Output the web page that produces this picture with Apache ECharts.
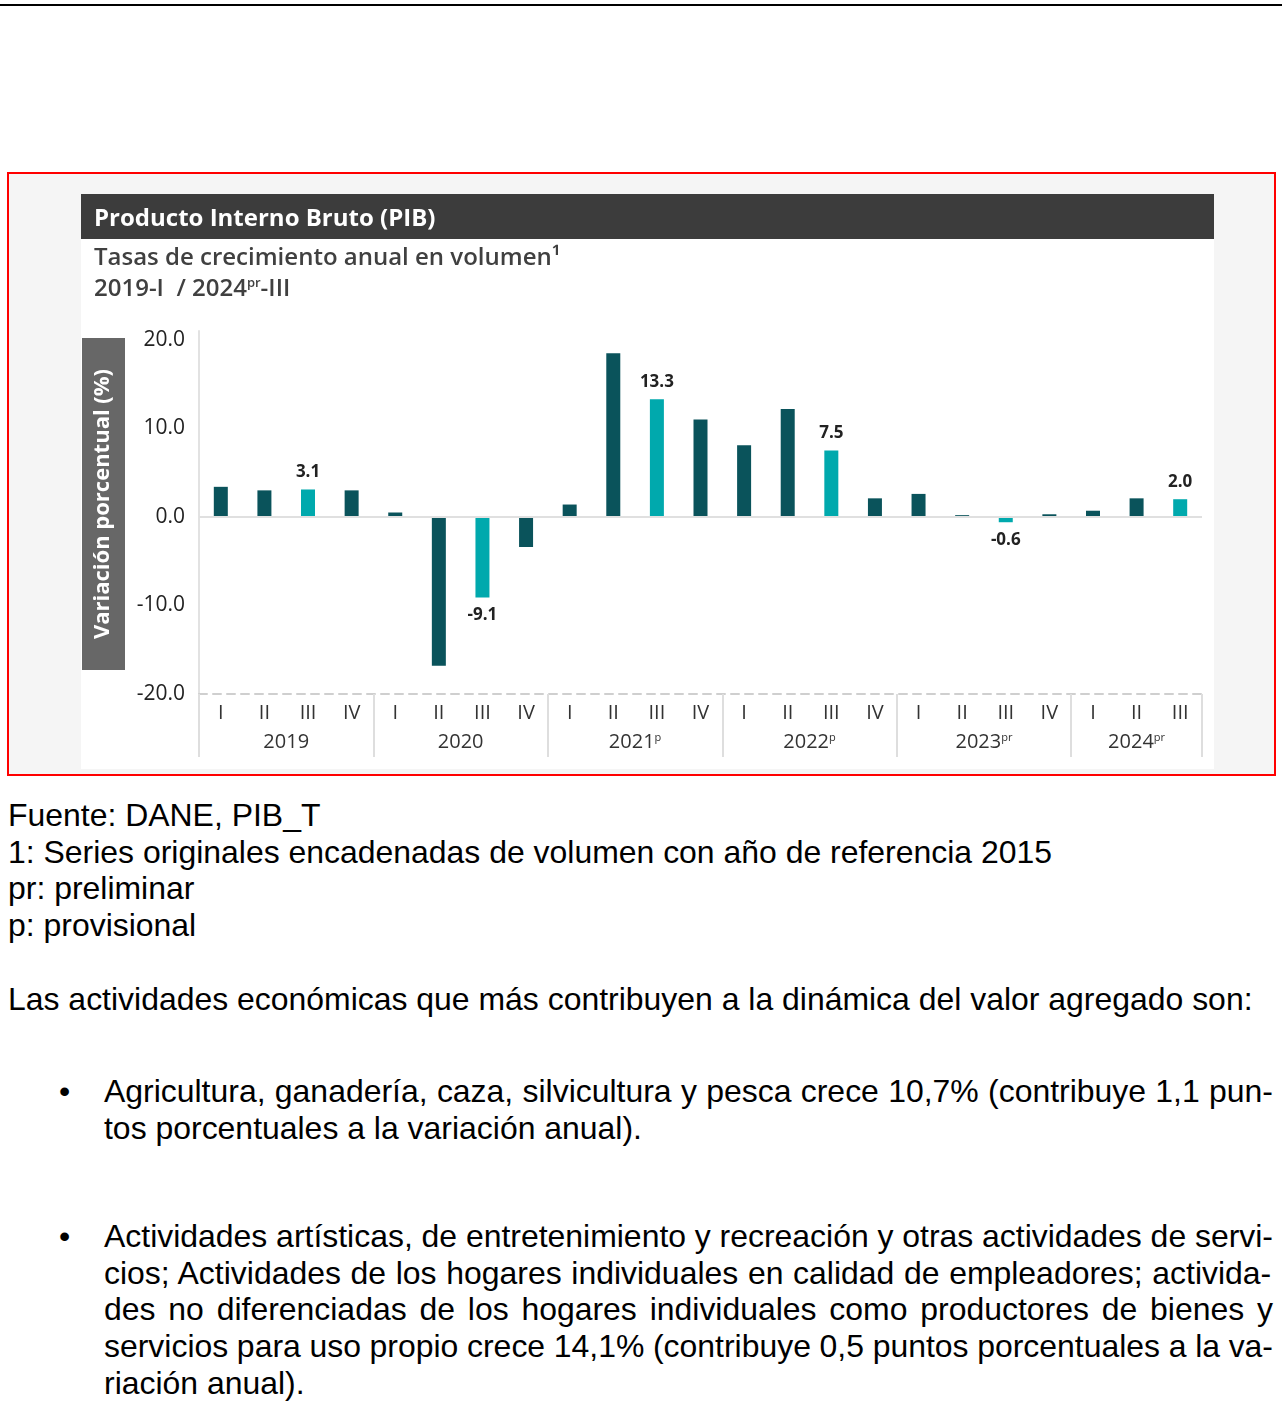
<!DOCTYPE html>
<html>
<head>
<meta charset="utf-8">
<script src="https://cdn.jsdelivr.net/npm/echarts@6/dist/echarts.min.js"></script>
<style>
  html, body { margin:0; padding:0; background:#fff; width:1282px; height:1411px; overflow:hidden; }
  #topline { position:absolute; left:0; top:4px; width:1282px; height:2px; background:#000; }
  #frame { position:absolute; left:7px; top:172px; width:1265px; height:600px; border:2px solid #ff0000; background:#f5f5f5; }
  #chart { position:absolute; left:0; top:0; width:1265px; height:600px; }
  .doc { position:absolute; font-family:'Liberation Sans', Arial, sans-serif; color:#000; line-height:36.7px; }
  .doc div { white-space:nowrap; }
  .bullet { position:absolute; left:-45px; top:0; }
</style>
</head>
<body>
<div id="topline"></div>
<div id="frame"><div id="chart"></div></div>

<div class="doc" id="notes" style="left:8px; top:797px; width:1265px;">
  <div>Fuente: DANE, PIB_T</div>
  <div>1: Series originales encadenadas de volumen con año de referencia 2015</div>
  <div>pr: preliminar</div>
  <div>p: provisional</div>
</div>
<div class="doc" id="intro" style="left:8px; top:981px; width:1265px;">
  <div id="introLine">Las actividades económicas que más contribuyen a la dinámica del valor agregado son:</div>
</div>
<div class="doc" style="left:104px; top:1073px; width:1169px;">
  <span class="bullet">•</span>
  <div class="jl">Agricultura, ganadería, caza, silvicultura y pesca crece 10,7% (contribuye 1,1 pun-</div>
  <div>tos porcentuales a la variación anual).</div>
</div>
<div class="doc" style="left:104px; top:1218px; width:1169px;">
  <span class="bullet">•</span>
  <div class="jl">Actividades artísticas, de entretenimiento y recreación y otras actividades de servi-</div>
  <div class="jl">cios; Actividades de los hogares individuales en calidad de empleadores; activida-</div>
  <div class="jl">des no diferenciadas de los hogares individuales como productores de bienes y</div>
  <div class="jl">servicios para uso propio crece 14,1% (contribuye 0,5 puntos porcentuales a la va-</div>
  <div>riación anual).</div>
</div>

<script>
// ---------------- data ----------------
const quarterNames = ['I', 'II', 'III', 'IV'];
const years = ['2019', '2020', '2021', '2022', '2023', '2024'];
const yearMarks = ['', '', 'p', 'p', 'pr', 'pr'];
const quartersInYear = [4, 4, 4, 4, 4, 3];
const growth = [3.4, 3.0, 3.1, 3.0, 0.5, -16.8, -9.1, -3.4, 1.4, 18.5, 13.3, 11.0,
                8.1, 12.2, 7.5, 2.1, 2.6, 0.2, -0.6, 0.3, 0.7, 2.1, 2.0];
const highlightQuarter = 'III';
const yTickValues = [-20, -10, 0, 10, 20];

// ---------------- fit document font & justify lines ----------------
(function () {
  const c = document.createElement('canvas').getContext('2d');
  c.font = "100px 'Liberation Sans'";
  const w = c.measureText(document.getElementById('introLine').textContent).width;
  const fs = 100 * 1245 / w;
  document.querySelectorAll('.doc').forEach(d => d.style.fontSize = fs + 'px');
  c.font = fs + "px 'Liberation Sans'";
  document.querySelectorAll('.jl').forEach(line => {
    const t = line.textContent;
    const natural = c.measureText(t).width;
    const spaces = (t.match(/ /g) || []).length;
    const target = line.parentElement.getBoundingClientRect().width;
    if (spaces > 0) line.style.wordSpacing = ((target - natural) / spaces) + 'px';
  });
})();

// ---------------- build axis data ----------------
const quarterCats = [];
const quarterIsHighlight = [];
const yearSlots = [];
const sepSlots = [];
let start = 0;
years.forEach((y, i) => {
  for (let q = 0; q < quartersInYear[i]; q++) {
    quarterCats.push(quarterNames[q]);
    quarterIsHighlight.push(quarterNames[q] === highlightQuarter);
  }
  sepSlots.push(2 * start);
  start += quartersInYear[i];
});
sepSlots.push(2 * start);
for (let j = 0; j <= 2 * start; j++) yearSlots.push('');
start = 0;
years.forEach((y, i) => {
  const center = 2 * start + quartersInYear[i];
  yearSlots[center] = yearMarks[i] ? y + '{s|' + yearMarks[i] + '}' : y;
  start += quartersInYear[i];
});

const DARK = '#0a535b';
const LIGHT = '#00a9ad';
const FONT = "'Open Sans', 'Noto Sans', sans-serif";

const seriesData = growth.map((v, i) => {
  const hl = quarterIsHighlight[i];
  return {
    value: v,
    itemStyle: { color: hl ? LIGHT : DARK },
    label: {
      show: hl,
      position: v >= 0 ? 'top' : 'bottom',
      distance: 9,
      formatter: p => p.value.toFixed(1),
      fontFamily: FONT, fontWeight: 'bold', fontSize: 17, color: '#222'
    }
  };
});

const chart = echarts.init(document.getElementById('chart'), null, { renderer: 'canvas' });
chart.setOption({
  animation: false,
  backgroundColor: '#f5f5f5',
  textStyle: { fontFamily: FONT },
  graphic: [
    { type: 'rect', left: 72, top: 20, shape: { width: 1133, height: 575 }, style: { fill: '#ffffff' }, z: -10 },
    { type: 'rect', left: 72, top: 20, shape: { width: 1133, height: 45 }, style: { fill: '#3c3c3c' }, z: -5 },
    { type: 'text', left: 85, top: 33, style: { text: 'Producto Interno Bruto (PIB)', fill: '#ffffff', font: "bold 24px " + FONT } },
    { type: 'text', left: 85, top: 72, style: { text: 'Tasas de crecimiento anual en volumen¹', fill: '#404040', font: "600 24px " + FONT } },
    { type: 'text', left: 85, top: 103, style: {
        text: '2019-I  / 2024{s|pr}-III', fill: '#404040', font: "600 24px " + FONT,
        rich: { s: { fontSize: 13, fontWeight: 600, verticalAlign: 'top', lineHeight: 13, fill: '#404040', fontFamily: FONT } }
      } },
    { type: 'rect', left: 73, top: 164, shape: { width: 43, height: 332 }, style: { fill: '#676767' }, z: -4 },
    { type: 'text', x: 94, y: 330, rotation: Math.PI / 2,
      style: { text: 'Variación porcentual (%)', fill: '#ffffff', font: "bold 22px " + FONT, align: 'center', verticalAlign: 'middle' } }
  ],
  grid: { left: 190, right: 72, top: 157, bottom: 80, containLabel: false },
  xAxis: [
    {
      type: 'category', data: quarterCats, position: 'bottom',
      axisLine: { show: true, onZero: false, lineStyle: { color: '#cfcfcf', width: 2, type: [8, 6] } },
      axisTick: { show: false },
      axisLabel: { interval: 0, margin: 9, fontSize: 20, color: '#333', fontFamily: FONT }
    },
    {
      type: 'category', data: yearSlots, position: 'bottom', boundaryGap: false,
      axisLine: { show: false, onZero: false },
      axisTick: { show: true, length: 63, interval: (i) => sepSlots.indexOf(i) >= 0, lineStyle: { color: '#dedede', width: 2 } },
      axisLabel: {
        interval: 0, margin: 38, fontSize: 20, color: '#333', fontFamily: FONT,
        rich: { s: { fontSize: 11, verticalAlign: 'top', lineHeight: 11, color: '#333', fontFamily: FONT } }
      }
    }
  ],
  yAxis: {
    type: 'value', min: yTickValues[0], max: 21, interval: 10,
    axisLine: { show: true, onZero: false, lineStyle: { color: '#e2e2e2', width: 2 } },
    axisTick: { show: false },
    splitLine: { show: false },
    axisLabel: { showMaxLabel: false, margin: 14, fontSize: 21, color: '#222', fontFamily: FONT,
      formatter: v => yTickValues.indexOf(v) >= 0 ? v.toFixed(1) : '' }
  },
  series: [{
    type: 'bar', data: seriesData, barWidth: 14, xAxisIndex: 0,
    markLine: {
      silent: true, symbol: 'none', label: { show: false },
      lineStyle: { color: '#e0e0e0', width: 2, type: 'solid' },
      data: [{ yAxis: 0 }]
    }
  }]
});
</script>
</body>
</html>
